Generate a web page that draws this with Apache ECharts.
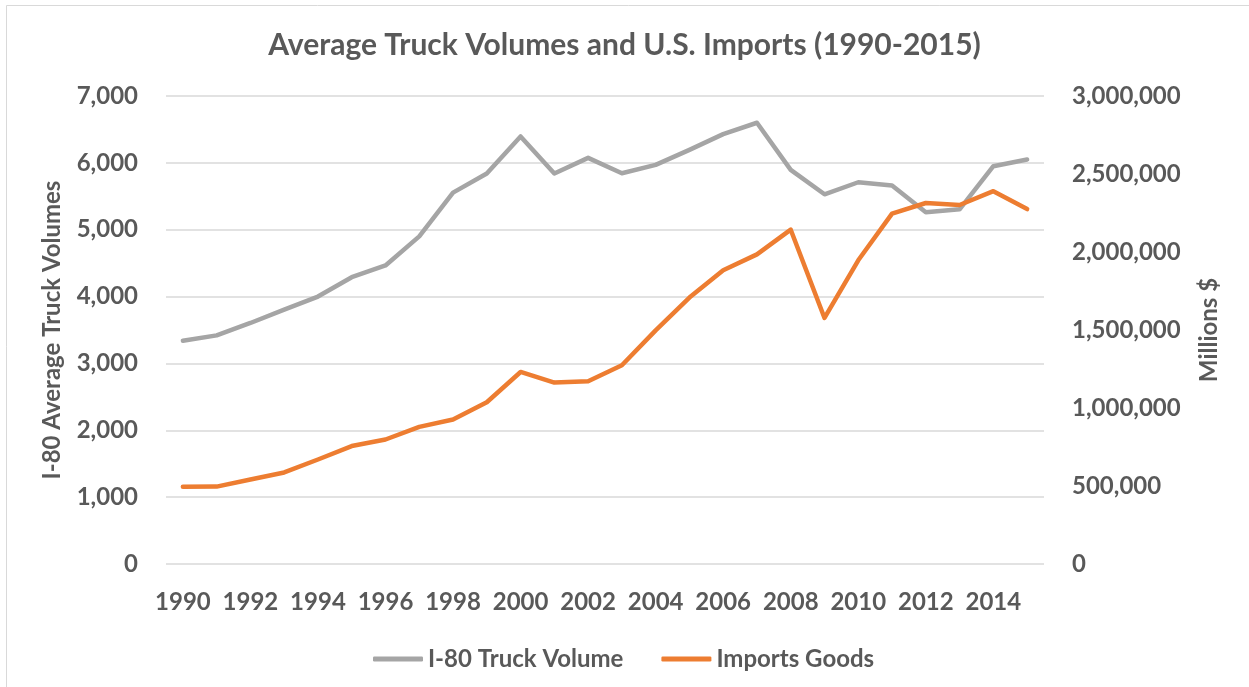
<!DOCTYPE html>
<html>
<head>
<meta charset="utf-8">
<script src="https://cdn.jsdelivr.net/npm/echarts@6/dist/echarts.min.js"></script>
<style>
  html, body { margin: 0; padding: 0; background: #fff; }
  #chart { width: 1249px; height: 687px; }
</style>
</head>
<body>
<div id="chart"></div>
<script>
// Years on the category axis
const years = [
  '1990','1991','1992','1993','1994','1995','1996','1997','1998','1999',
  '2000','2001','2002','2003','2004','2005','2006','2007','2008','2009',
  '2010','2011','2012','2013','2014','2015'
];

// I-80 average truck volumes (left axis)
const truckVolume = [
  3340, 3420, 3605, 3805, 4000, 4290, 4465, 4900, 5555, 5840,
  6395, 5840, 6075, 5845, 5970, 6195, 6430, 6600, 5895, 5530,
  5710, 5660, 5260, 5305, 5950, 6050
];

// U.S. imports of goods, millions of dollars (right axis)
const importsGoods = [
  495000, 496000, 542000, 587000, 670000, 756000, 798000, 879000, 926000, 1037000,
  1231000, 1163000, 1172000, 1274000, 1498000, 1708000, 1883000, 1985000, 2143000, 1577000,
  1947000, 2246000, 2314000, 2301000, 2390000, 2275000
];

const titleText = 'Average Truck Volumes and U.S. Imports (1990-2015)';
const leftAxisName = 'I-80 Average Truck Volumes';
const rightAxisName = 'Millions $';
const seriesNames = ['I-80 Truck Volume', 'Imports Goods'];

const FONT = 'Lato, "Open Sans", sans-serif';
const TEXT = '#595959';
const LABEL = { fontFamily: FONT, fontSize: 24, fontWeight: 'bold', color: TEXT };

const chart = echarts.init(document.getElementById('chart'), null, { renderer: 'canvas' });

const fmt = v => v.toLocaleString('en-US');

chart.setOption({
  backgroundColor: '#ffffff',
  animation: false,
  graphic: [{
    // thin frame around the chart area
    type: 'rect',
    silent: true,
    shape: { x: 6.5, y: 5.5, width: 1300, height: 700 },
    style: { fill: 'none', stroke: '#D9D9D9', lineWidth: 1 }
  }],
  title: {
    text: titleText,
    left: 'center',
    top: 25,
    textStyle: { fontFamily: FONT, fontSize: 30, fontWeight: 'bold', color: TEXT }
  },
  legend: {
    top: 642,
    left: 368,
    itemWidth: 50,
    itemHeight: 5,
    itemGap: 38,
    icon: 'roundRect',
    textStyle: LABEL,
    data: seriesNames
  },
  grid: { left: 166, right: 205, top: 96, bottom: 123, containLabel: false },
  xAxis: {
    type: 'category',
    data: years,
    boundaryGap: true,
    axisLine: { show: false },
    axisTick: { show: false },
    axisLabel: Object.assign({ interval: 1, margin: 26 }, LABEL),
    splitLine: { show: false }
  },
  yAxis: [
    {
      type: 'value',
      min: 0, max: 7000, interval: 1000,
      name: leftAxisName,
      nameLocation: 'middle',
      nameRotate: 90,
      nameGap: 102,
      nameTextStyle: LABEL,
      axisLine: { show: false },
      axisTick: { show: false },
      axisLabel: Object.assign({ margin: 28, formatter: fmt }, LABEL),
      splitLine: { lineStyle: { color: '#D9D9D9', width: 1.5 } }
    },
    {
      type: 'value',
      min: 0, max: 3000000, interval: 500000,
      position: 'right',
      name: rightAxisName,
      nameLocation: 'middle',
      nameRotate: 90,
      nameGap: 153,
      nameTextStyle: LABEL,
      axisLine: { show: false },
      axisTick: { show: false },
      axisLabel: Object.assign({ margin: 28, formatter: fmt }, LABEL),
      splitLine: { show: false }
    }
  ],
  series: [
    {
      name: seriesNames[0],
      type: 'line',
      yAxisIndex: 0,
      data: truckVolume,
      symbol: 'none',
      lineStyle: { color: '#A5A5A5', width: 4.5, join: 'round', cap: 'round' },
      itemStyle: { color: '#A5A5A5' }
    },
    {
      name: seriesNames[1],
      type: 'line',
      yAxisIndex: 1,
      data: importsGoods,
      symbol: 'none',
      lineStyle: { color: '#ED7D31', width: 4.5, join: 'round', cap: 'round' },
      itemStyle: { color: '#ED7D31' }
    }
  ]
});
</script>
</body>
</html>
